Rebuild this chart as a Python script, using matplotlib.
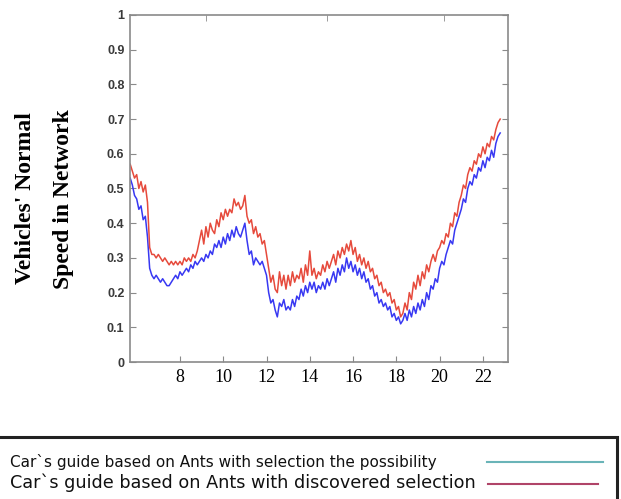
import numpy as np
import matplotlib
matplotlib.use("Agg")
import matplotlib.pyplot as plt
from matplotlib.patches import Rectangle
from matplotlib.lines import Line2D

# time of day, sampled every 0.1 h from 5.7 to 22.8
hours = np.round(np.arange(5.7, 22.85, 0.1), 1)

# Car`s guide based on Ants with discovered selection (red)
discovered = [
    0.57, 0.55, 0.53,
    0.54, 0.50, 0.52, 0.49, 0.51, 0.46, 0.33, 0.31, 0.31, 0.30,
    0.31, 0.30, 0.29, 0.30, 0.29, 0.28, 0.29, 0.28, 0.29, 0.28,
    0.29, 0.28, 0.30, 0.29, 0.30, 0.29, 0.31, 0.30, 0.32, 0.35,
    0.38, 0.34, 0.39, 0.36, 0.40, 0.38, 0.37, 0.41, 0.39, 0.43,
    0.41, 0.44, 0.42, 0.44, 0.43, 0.47, 0.45, 0.46, 0.44, 0.45,
    0.48, 0.42, 0.40, 0.41, 0.37, 0.39, 0.36, 0.37, 0.34, 0.35,
    0.31, 0.27, 0.23, 0.25, 0.21, 0.20, 0.26, 0.22, 0.25, 0.21,
    0.25, 0.22, 0.26, 0.23, 0.25, 0.24, 0.27, 0.23, 0.28, 0.25,
    0.32, 0.25, 0.27, 0.24, 0.26, 0.25, 0.28, 0.26, 0.29, 0.27,
    0.29, 0.31, 0.28, 0.32, 0.30, 0.33, 0.31, 0.34, 0.32, 0.35,
    0.31, 0.33, 0.29, 0.31, 0.28, 0.30, 0.27, 0.29, 0.26, 0.27,
    0.24, 0.25, 0.22, 0.23, 0.20, 0.21, 0.19, 0.20, 0.17, 0.18,
    0.15, 0.16, 0.13, 0.14, 0.17, 0.15, 0.20, 0.18, 0.23, 0.21,
    0.25, 0.22, 0.26, 0.24, 0.28, 0.26, 0.29, 0.31, 0.29, 0.32,
    0.33, 0.35, 0.34, 0.37, 0.36, 0.40, 0.39, 0.43, 0.42, 0.46,
    0.48, 0.51, 0.50, 0.54, 0.56, 0.55, 0.58, 0.57, 0.60, 0.59,
    0.62, 0.60, 0.63, 0.62, 0.65, 0.64, 0.67, 0.69, 0.70,
]

# Car`s guide based on Ants with selection the possibility (blue)
possibility = [
    0.53, 0.51, 0.48,
    0.47, 0.44, 0.45, 0.41, 0.42, 0.36, 0.27, 0.25, 0.24, 0.25,
    0.24, 0.23, 0.24, 0.23, 0.22, 0.22, 0.23, 0.24, 0.25, 0.24,
    0.26, 0.25, 0.26, 0.27, 0.26, 0.28, 0.27, 0.29, 0.28, 0.29,
    0.30, 0.29, 0.31, 0.30, 0.32, 0.31, 0.34, 0.33, 0.35, 0.33,
    0.36, 0.34, 0.37, 0.35, 0.38, 0.36, 0.39, 0.37, 0.36, 0.38,
    0.40, 0.35, 0.31, 0.32, 0.28, 0.30, 0.29, 0.28, 0.29, 0.27,
    0.25, 0.20, 0.17, 0.18, 0.15, 0.13, 0.17, 0.16, 0.18, 0.15,
    0.16, 0.15, 0.18, 0.16, 0.19, 0.18, 0.21, 0.19, 0.22, 0.20,
    0.23, 0.21, 0.23, 0.20, 0.22, 0.21, 0.23, 0.21, 0.24, 0.22,
    0.24, 0.26, 0.23, 0.27, 0.25, 0.28, 0.26, 0.30, 0.27, 0.29,
    0.26, 0.28, 0.25, 0.27, 0.24, 0.26, 0.23, 0.24, 0.21, 0.22,
    0.19, 0.20, 0.17, 0.18, 0.16, 0.17, 0.15, 0.16, 0.13, 0.14,
    0.12, 0.13, 0.11, 0.12, 0.14, 0.12, 0.15, 0.13, 0.16, 0.14,
    0.17, 0.15, 0.18, 0.16, 0.20, 0.18, 0.22, 0.21, 0.24, 0.23,
    0.27, 0.29, 0.28, 0.31, 0.33, 0.35, 0.34, 0.38, 0.40, 0.42,
    0.44, 0.47, 0.46, 0.50, 0.52, 0.51, 0.54, 0.53, 0.56, 0.55,
    0.58, 0.56, 0.59, 0.58, 0.61, 0.59, 0.63, 0.65, 0.66,
]

x_ticks = [8, 10, 12, 14, 16, 18, 20, 22]
y_ticks = [0, 0.1, 0.2, 0.3, 0.4, 0.5, 0.6, 0.7, 0.8, 0.9, 1]
y_labels = ["0", "0.1", "0.2", "0.3", "0.4", "0.5", "0.6", "0.7", "0.8", "0.9", "1"]
top_ticks = [9.2, 14.8, 20.2]

label_possibility = "Car`s guide based on Ants with selection the possibility"
label_discovered = "Car`s guide based on Ants with discovered selection"

fig = plt.figure(figsize=(6.21, 4.99), dpi=100)
ax = fig.add_axes([0.2093, 0.2745, 0.6087, 0.6955])

ax.plot(hours, possibility, color="#3838f2", lw=1.1)
ax.plot(hours, discovered, color="#e64a3c", lw=1.1)

ax.set_xlim(5.69, 23.16)
ax.set_ylim(0, 1)

for s in ax.spines.values():
    s.set_color("#8a8a8a")
    s.set_linewidth(1.2)

ax.set_yticks(y_ticks)
ax.set_yticklabels(y_labels, fontsize=9, color="#3a3a3a", fontweight="bold",
                   family="Liberation Sans")
ax.set_xticks(x_ticks)
ax.set_xticklabels([str(t) for t in x_ticks], fontsize=13, family="Liberation Serif")
ax.set_xticks(top_ticks, minor=True)
ax.tick_params(axis="y", direction="in", right=True, length=4, color="#8a8a8a", pad=4)
ax.tick_params(axis="x", which="major", direction="in", length=4, color="#8a8a8a", pad=5)
ax.tick_params(axis="x", which="minor", direction="in", top=True, bottom=False,
               length=4, color="#8a8a8a")

# two-line y label, drawn as separate lines
fig.text(26 / 621, 1 - 198 / 499, "Vehicles' Normal", rotation=90,
         ha="center", va="center", fontsize=17, fontweight="bold",
         family="Liberation Serif")
fig.text(64 / 621, 1 - 199 / 499, "Speed in Network", rotation=90,
         ha="center", va="center", fontsize=17, fontweight="bold",
         family="Liberation Serif")

# legend box across the bottom
box = Rectangle((-0.01, -0.05), 1.003, 0.175, transform=fig.transFigure,
                fill=False, edgecolor="#222222", lw=2.2)
fig.patches.append(box)
fig.text(10 / 621, 1 - 462 / 499, label_possibility, fontsize=11,
         family="DejaVu Sans", va="center", ha="left", color="#111111")
fig.text(10 / 621, 1 - 483 / 499, label_discovered, fontsize=12.7,
         family="DejaVu Sans", va="center", ha="left", color="#111111")
fig.lines.append(Line2D([487 / 621, 603 / 621], [1 - 462 / 499] * 2,
                        transform=fig.transFigure, color="#6ab4b8", lw=1.5))
fig.lines.append(Line2D([488 / 621, 598 / 621], [1 - 484 / 499] * 2,
                        transform=fig.transFigure, color="#b04468", lw=1.5))

fig.savefig("out.png", dpi=100)
